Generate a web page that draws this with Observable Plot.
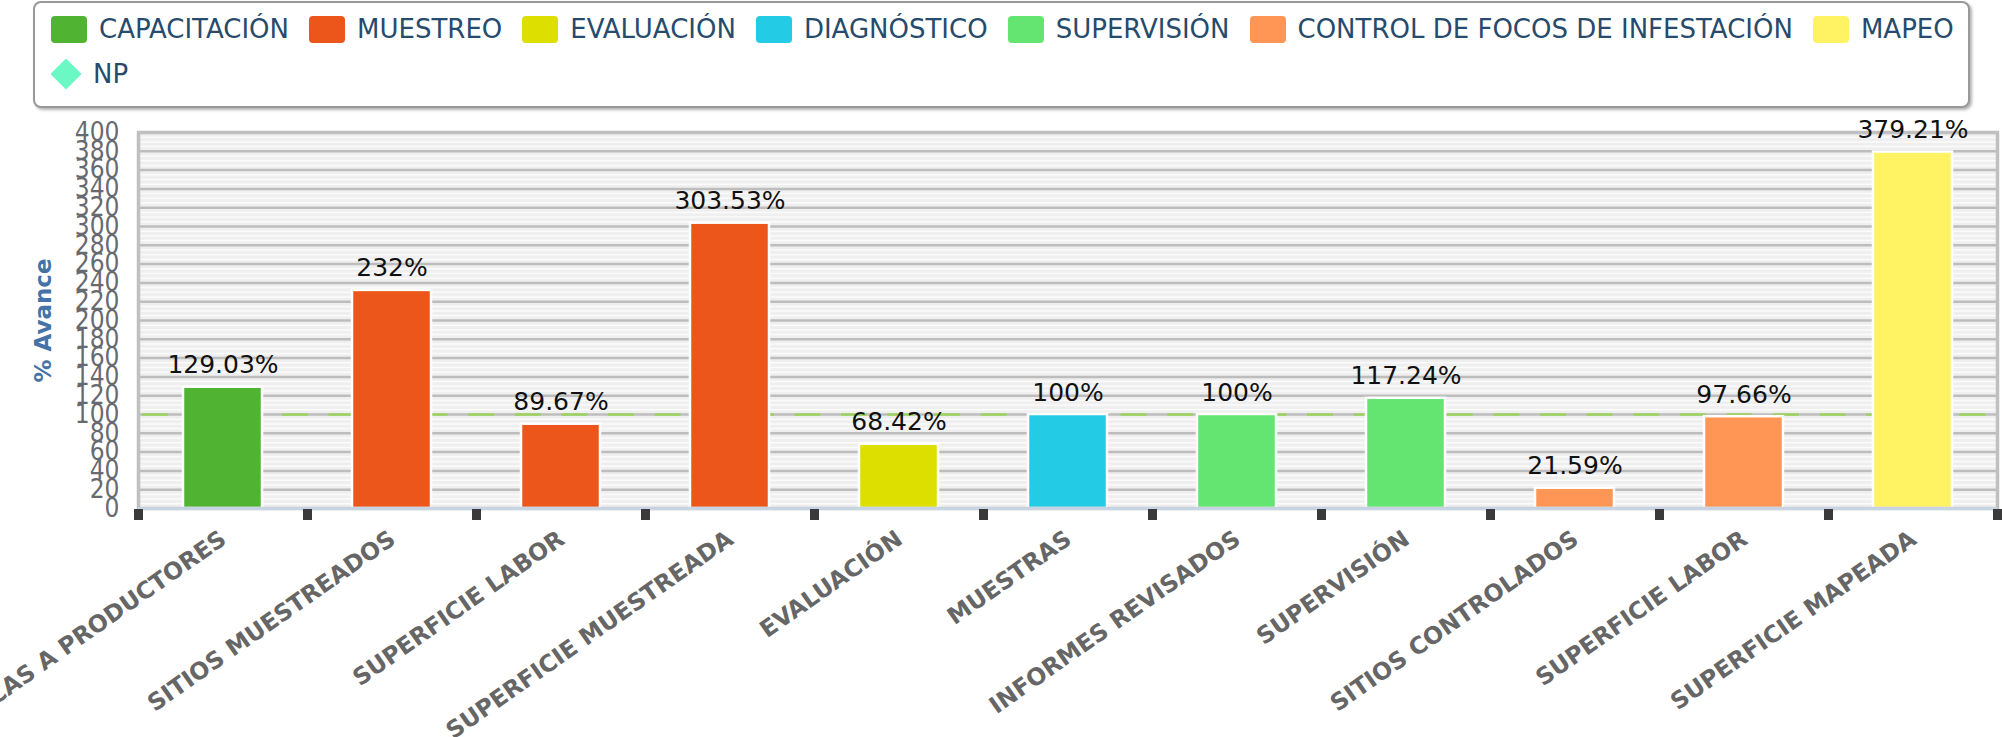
<!DOCTYPE html>
<html>
<head>
<meta charset="utf-8">
<script src="https://cdn.jsdelivr.net/npm/d3@7"></script>
<script src="https://cdn.jsdelivr.net/npm/@observablehq/plot@0.6"></script>
<style>
  html, body { margin: 0; padding: 0; background: white; }
  #wrap { width: 2002px; height: 737px; overflow: hidden; position: relative; }
  #legendArea { position: relative; width: 2002px; height: 110px; }
  #legend {
    position: absolute; left: 33px; top: 1px; width: 1937px; height: 107px;
    box-sizing: border-box; border: 2px solid #999; border-radius: 8px;
    box-shadow: 2px 2px 3px rgba(0,0,0,0.3); background: white;
    font-family: "DejaVu Sans", sans-serif; font-size: 26px; color: #274b6d;
  }
  .row { position: absolute; left: 16px; display: flex; align-items: center; white-space: nowrap; }
  .item { display: flex; align-items: center; margin-right: 20px; }
  .sw { width: 36px; height: 27px; border-radius: 4px; margin-right: 12px; }
  .dia { width: 22px; height: 22px; transform: rotate(45deg); margin: 0 16px 0 4px; }
</style>
</head>
<body>
<div id="wrap">
  <div id="legendArea"><div id="legend"></div></div>
  <div id="chart"></div>
</div>
<script>
// ---- data ----
const categories = ["PLÁTICAS A PRODUCTORES", "SITIOS MUESTREADOS", "SUPERFICIE LABOR", "SUPERFICIE MUESTREADA", "EVALUACIÓN", "MUESTRAS", "INFORMES REVISADOS", "SUPERVISIÓN", "SITIOS CONTROLADOS", "SUPERFICIE LABOR", "SUPERFICIE MAPEADA"];
const values = [129.03, 232, 89.67, 303.53, 68.42, 100, 100, 117.24, 21.59, 97.66, 379.21];
const groups = ["CAPACITACIÓN", "MUESTREO", "MUESTREO", "MUESTREO", "EVALUACIÓN", "DIAGNÓSTICO", "SUPERVISIÓN", "SUPERVISIÓN", "CONTROL DE FOCOS DE INFESTACIÓN", "CONTROL DE FOCOS DE INFESTACIÓN", "MAPEO"];
const seriesNames = ["CAPACITACIÓN", "MUESTREO", "EVALUACIÓN", "DIAGNÓSTICO", "SUPERVISIÓN", "CONTROL DE FOCOS DE INFESTACIÓN", "MAPEO"];
const seriesColors = ["#50B432", "#ED561B", "#DDDF00", "#24CBE5", "#64E572", "#FF9655", "#FFF263"];
const npName = "NP";
const npValues = [100];
const npColor = "#6AF9C4";
const yTicks = [0, 20, 40, 60, 80, 100, 120, 140, 160, 180, 200, 220, 240, 260, 280, 300, 320, 340, 360, 380, 400];
const yTitle = "% Avance";

// ---- legend ----
const legend = document.getElementById("legend");
const row1 = document.createElement("div");
row1.className = "row"; row1.style.top = "11px";
seriesNames.forEach((n, k) => {
  const it = document.createElement("div"); it.className = "item";
  const sw = document.createElement("div"); sw.className = "sw"; sw.style.background = seriesColors[k];
  const tx = document.createElement("span"); tx.textContent = n;
  it.appendChild(sw); it.appendChild(tx); row1.appendChild(it);
});
legend.appendChild(row1);
const row2 = document.createElement("div");
row2.className = "row"; row2.style.top = "56px";
{
  const it = document.createElement("div"); it.className = "item";
  const d = document.createElement("div"); d.className = "dia"; d.style.background = npColor;
  const tx = document.createElement("span"); tx.textContent = npName;
  it.appendChild(d); it.appendChild(tx); row2.appendChild(it);
}
legend.appendChild(row2);

// ---- chart ----
const W = 2002, H = 627;
const mL = 138, mR = 5, mT = 22, mB = 229;
const n = categories.length;
const bw = (W - mL - mR) / n;
const idx = d3.range(n);
const data = idx.map(i => ({i, cat: categories[i], v: values[i], g: groups[i]}));
const minor = d3.range(0, 401, 5);
const tickOpts = {stroke: "#3a3a3a", strokeWidth: 9, insetTop: (H - mT - mB) + 1, insetBottom: -12};

const chart = Plot.plot({
  width: W, height: H,
  marginLeft: mL, marginRight: mR, marginTop: mT, marginBottom: mB,
  x: {type: "band", domain: idx, padding: 0, axis: null},
  y: {domain: [0, 400], axis: null},
  color: {domain: seriesNames, range: seriesColors},
  style: {fontFamily: "DejaVu Sans, sans-serif", background: "white"},
  marks: [
    Plot.frame({fill: "#efefef"}),
    Plot.ruleY(minor, {stroke: "#fbfbfb", strokeWidth: 1.5}),
    Plot.ruleY(yTicks, {stroke: "#bdbdbd", strokeWidth: 2.5}),
    Plot.ruleY(npValues, {stroke: "#9bd35c", strokeWidth: 2.5, strokeDasharray: "26,20.6", strokeDashoffset: -4}),
    Plot.barY(data, {x: "i", y: "v", fill: "g", stroke: "white", strokeWidth: 2.5, insetLeft: 45, insetRight: 45}),
    Plot.frame({stroke: "#c0c0c0", strokeWidth: 3.5}),
    Plot.ruleY([0], {stroke: "#c6d4e4", strokeWidth: 3}),
    Plot.ruleX(idx, {x: d => d, dx: -bw / 2, ...tickOpts}),
    Plot.ruleX([n - 1], {x: d => d, dx: bw / 2, ...tickOpts}),
    Plot.axisY(yTicks, {tickSize: 0, tickPadding: 19, fontSize: 26, fill: "#666a70", fontFamily: "DejaVu Sans Condensed, DejaVu Sans, sans-serif", label: null, tickFormat: d => String(d)}),
    Plot.text([yTitle], {text: d => d, frameAnchor: "left", dx: -95, rotate: -90, fontWeight: "bold", fontSize: 23, fill: "#4572A7", textAnchor: "middle"}),
    Plot.text(data, {x: "i", y: "v", text: d => d.v + "%", dy: -14, lineAnchor: "bottom", fontSize: 25, fill: "#111"}),
    Plot.text(data, {x: "i", text: "cat", frameAnchor: "bottom", dy: 34, dx: 5, rotate: -35, textAnchor: "end", lineAnchor: "bottom", fontWeight: "bold", fontSize: 23.5, fill: "#666"})
  ]
});
document.getElementById("chart").appendChild(chart);
</script>
</body>
</html>
